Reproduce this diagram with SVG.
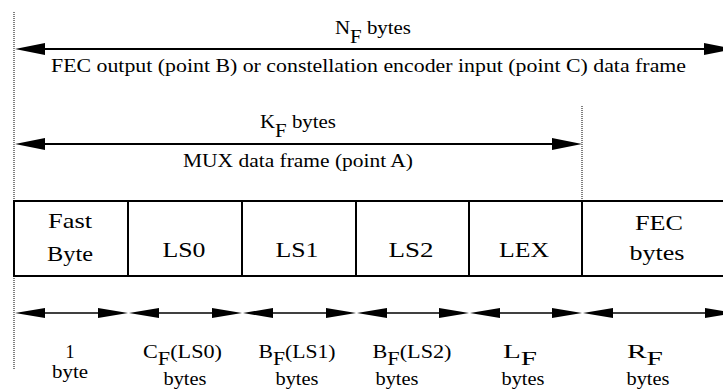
<svg xmlns="http://www.w3.org/2000/svg" width="723" height="391" viewBox="0 0 723 391">
  <style>
    .lbl { font-family: 'Liberation Serif', 'DejaVu Serif', serif; font-size: 18px; fill: #000; text-anchor: middle; }
    .cell { font-family: 'Liberation Serif', 'DejaVu Serif', serif; font-size: 21.5px; fill: #000; text-anchor: middle; }
    .frame { fill: #fff; stroke: #000; stroke-width: 2; }
    .div { stroke: #000; stroke-width: 2; }
    .guide { stroke: #000; stroke-width: 1; stroke-dasharray: 1 1; fill: none; }
    .span { stroke: #000; stroke-width: 2; fill: none; }
    .seg { stroke: #000; stroke-width: 1.5; fill: none; }
    .head { fill: #000; stroke: none; }
  </style>

  <!-- reference guides -->
  <g id="guides">
    <line class="guide" x1="14" y1="12" x2="14" y2="370"/>
    <line class="guide" x1="582" y1="106" x2="582" y2="200"/>
  </g>

  <!-- dimension arrows -->
  <g id="connectors">
    <!-- N_F span -->
    <line class="span" x1="40" y1="49" x2="710" y2="49"/>
    <polygon class="head" points="15,49 45,43 45,55"/>
    <polygon class="head" points="734,49 704,43 704,55"/>
    <!-- K_F span -->
    <line class="span" x1="40" y1="144" x2="560" y2="144"/>
    <polygon class="head" points="15,144 45,138 45,150"/>
    <polygon class="head" points="582,144 552,138 552,150"/>
    <!-- per-field spans -->
    <g>
      <line class="seg" x1="40" y1="313" x2="104" y2="313"/>
      <polygon class="head" points="15,313 45,308 45,318"/>
      <polygon class="head" points="128,313 98,308 98,318"/>
    </g>
    <g>
      <line class="seg" x1="154" y1="313" x2="218" y2="313"/>
      <polygon class="head" points="129,313 159,308 159,318"/>
      <polygon class="head" points="242,313 212,308 212,318"/>
    </g>
    <g>
      <line class="seg" x1="268" y1="313" x2="332" y2="313"/>
      <polygon class="head" points="243,313 273,308 273,318"/>
      <polygon class="head" points="356,313 326,308 326,318"/>
    </g>
    <g>
      <line class="seg" x1="382" y1="313" x2="445" y2="313"/>
      <polygon class="head" points="357,313 387,308 387,318"/>
      <polygon class="head" points="469,313 439,308 439,318"/>
    </g>
    <g>
      <line class="seg" x1="495" y1="313" x2="558" y2="313"/>
      <polygon class="head" points="470,313 500,308 500,318"/>
      <polygon class="head" points="582,313 552,308 552,318"/>
    </g>
    <g>
      <line class="seg" x1="608" y1="313" x2="712" y2="313"/>
      <polygon class="head" points="583,313 613,308 613,318"/>
      <polygon class="head" points="735,313 705,308 705,318"/>
    </g>
  </g>

  <!-- span captions -->
  <g id="nf-label">
    <text class="lbl" x="373" y="34" textLength="76" lengthAdjust="spacingAndGlyphs">N<tspan dy="9">F</tspan><tspan dy="-9"> bytes</tspan></text>
    <text class="lbl" x="368.5" y="72" textLength="635" lengthAdjust="spacingAndGlyphs">FEC output (point B) or constellation encoder input (point C) data frame</text>
  </g>
  <g id="kf-label">
    <text class="lbl" x="298" y="128" textLength="76" lengthAdjust="spacingAndGlyphs">K<tspan dy="9">F</tspan><tspan dy="-9"> bytes</tspan></text>
    <text class="lbl" x="298" y="167" textLength="230" lengthAdjust="spacingAndGlyphs">MUX data frame (point A)</text>
  </g>

  <!-- frame fields -->
  <g id="frame">
    <rect class="frame" x="14" y="201" width="730" height="75"/>
  </g>
  <g id="fast-byte">
    <line class="div" x1="128" y1="201" x2="128" y2="276"/>
    <text class="cell" x="70" y="228" textLength="44" lengthAdjust="spacingAndGlyphs">Fast</text>
    <text class="cell" x="70" y="261" textLength="46" lengthAdjust="spacingAndGlyphs">Byte</text>
  </g>
  <g id="ls0">
    <line class="div" x1="242" y1="201" x2="242" y2="276"/>
    <text class="cell" x="184" y="257" textLength="43" lengthAdjust="spacingAndGlyphs">LS0</text>
  </g>
  <g id="ls1">
    <line class="div" x1="356" y1="201" x2="356" y2="276"/>
    <text class="cell" x="297" y="257" textLength="43" lengthAdjust="spacingAndGlyphs">LS1</text>
  </g>
  <g id="ls2">
    <line class="div" x1="469" y1="201" x2="469" y2="276"/>
    <text class="cell" x="411" y="257" textLength="45" lengthAdjust="spacingAndGlyphs">LS2</text>
  </g>
  <g id="lex">
    <line class="div" x1="582" y1="201" x2="582" y2="276"/>
    <text class="cell" x="524" y="257" textLength="50" lengthAdjust="spacingAndGlyphs">LEX</text>
  </g>
  <g id="fec-bytes">
    <text class="cell" x="659" y="230" textLength="48" lengthAdjust="spacingAndGlyphs">FEC</text>
    <text class="cell" x="657" y="260" textLength="55" lengthAdjust="spacingAndGlyphs">bytes</text>
  </g>

  <!-- field sizes -->
  <g id="size-fast">
    <text class="lbl" x="70" y="358">1</text>
    <text class="lbl" x="70" y="378" textLength="36" lengthAdjust="spacingAndGlyphs">byte</text>
  </g>
  <g id="size-ls0">
    <text class="lbl" x="182.5" y="358" textLength="79" lengthAdjust="spacingAndGlyphs">C<tspan dy="7">F</tspan><tspan dy="-7">(LS0)</tspan></text>
    <text class="lbl" x="185" y="385" textLength="43" lengthAdjust="spacingAndGlyphs">bytes</text>
  </g>
  <g id="size-ls1">
    <text class="lbl" x="297" y="358" textLength="77" lengthAdjust="spacingAndGlyphs">B<tspan dy="7">F</tspan><tspan dy="-7">(LS1)</tspan></text>
    <text class="lbl" x="297" y="385" textLength="43" lengthAdjust="spacingAndGlyphs">bytes</text>
  </g>
  <g id="size-ls2">
    <text class="lbl" x="412" y="358" textLength="79" lengthAdjust="spacingAndGlyphs">B<tspan dy="7">F</tspan><tspan dy="-7">(LS2)</tspan></text>
    <text class="lbl" x="397" y="385" textLength="43" lengthAdjust="spacingAndGlyphs">bytes</text>
  </g>
  <g id="size-lex">
    <text class="lbl" x="520" y="358" textLength="34" lengthAdjust="spacingAndGlyphs">L<tspan dy="7">F</tspan></text>
    <text class="lbl" x="523" y="385" textLength="43" lengthAdjust="spacingAndGlyphs">bytes</text>
  </g>
  <g id="size-fec">
    <text class="lbl" x="645" y="358" textLength="36" lengthAdjust="spacingAndGlyphs">R<tspan dy="7">F</tspan></text>
    <text class="lbl" x="648" y="385" textLength="43" lengthAdjust="spacingAndGlyphs">bytes</text>
  </g>
</svg>
